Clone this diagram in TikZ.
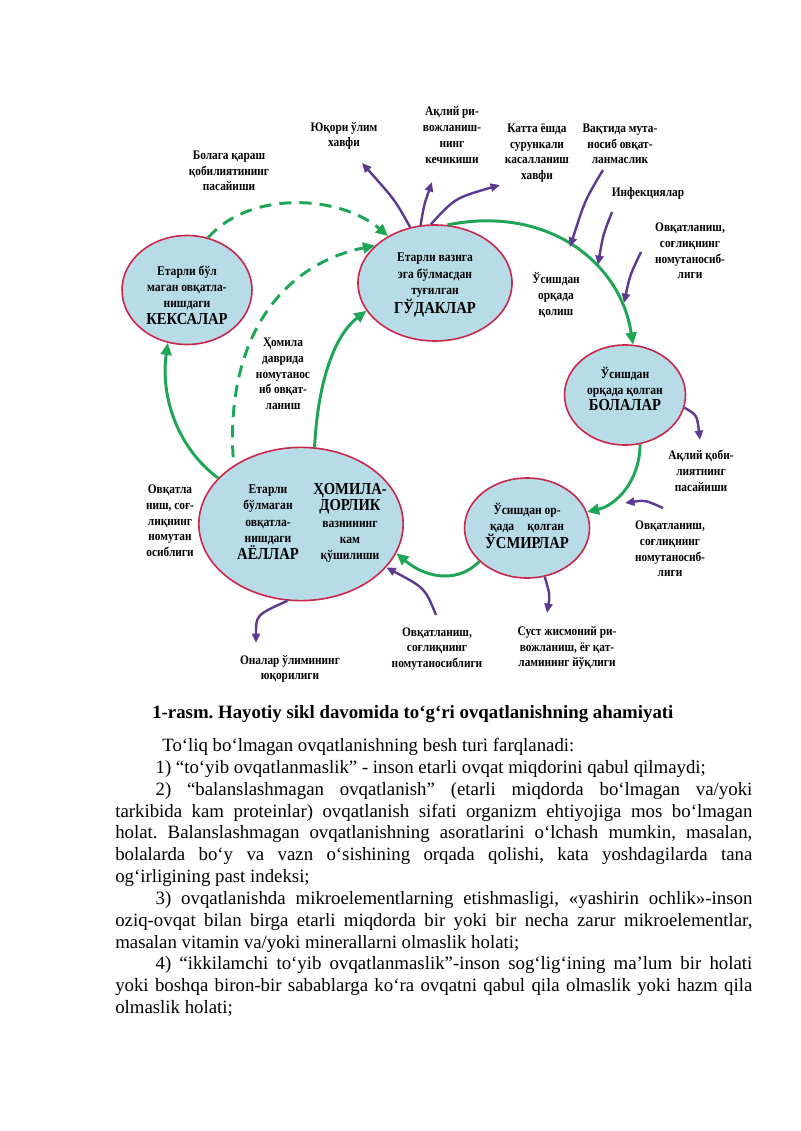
\documentclass[tikz,border=0pt]{standalone}
\usepackage{fontspec}
\setmainfont{Liberation Serif}
\newfontfamily\dfont[FakeStretch=0.87]{Liberation Serif}
\usetikzlibrary{arrows.meta,shapes.geometric}
\definecolor{gr}{HTML}{1FA556}
\definecolor{pu}{HTML}{5B3A8F}
\definecolor{efill}{HTML}{B7DCE7}
\definecolor{edraw}{HTML}{C9284C}
\frenchspacing
\begin{document}
\begin{tikzpicture}[x=0.744pt,y=-0.744pt,
 ell/.style={ellipse,draw=edraw,line width=1.2pt,fill=efill,inner sep=0pt},
 lbl/.style={font=\dfont\bfseries\fontsize{9.7}{11.7}\selectfont,align=center,inner sep=0pt},
 etxt/.style={font=\dfont\bfseries\fontsize{9.9}{12.2}\selectfont,align=center,inner sep=0pt},
 garr/.style={draw=gr,line width=2.2pt,-{Triangle[length=9pt,width=8pt]}},
 gdash/.style={garr,dash pattern=on 9pt off 6pt},
 parr/.style={draw=pu,line width=1.8pt,-{Triangle[length=7pt,width=6pt]}}]
\newcommand\bigw[1]{{\fontsize{12.5}{14}\selectfont #1}}
\useasboundingbox (0,0) rectangle (800,1131);
\fill[white] (0,0) rectangle (800,1131);

% ellipses
\node[ell,minimum width=96.7pt,minimum height=81.1pt] (keks) at (187,290) {};
\node[ell,minimum width=114.6pt,minimum height=86.3pt] (gud) at (435,283) {};
\node[ell,minimum width=90pt,minimum height=74.4pt] (bol) at (625,395) {};
\node[ell,minimum width=93pt,minimum height=74.4pt] (usm) at (527,528) {};
\node[ell,minimum width=152pt,minimum height=114pt] (ayol) at (301,524) {};

% ellipse texts
\node[etxt] (tkeks) at (187,295) {Етарли бўл\\маган овқатла-\\нишдаги\\\bigw{КЕКСАЛАР}};
\node[etxt] (tgud) at (435,285) {Етарли вазнга\\эга бўлмасдан\\туғилган\\\bigw{ГЎДАКЛАР}};
\node[etxt] (tbol) at (625,389) {Ўсишдан\\орқада қолган\\\bigw{БОЛАЛАР}};
\node[etxt] (tusm) at (527,526) {Ўсишдан ор-\\қада\quad қолган\\\bigw{ЎСМИРЛАР}};
\node[etxt] (tayol1) at (268,522) {Етарли\\бўлмаган\\овқатла-\\нишдаги\\\bigw{АЁЛЛАР}};
\node[etxt] (tayol2) at (350,523) {\bigw{ҲОМИЛА-}\\\bigw{ДОРЛИК}\\вазнининг\\кам\\қўшилиши};

% labels
\node[lbl] (l1) at (229,171) {Болага қараш\\қобилиятининг\\пасайиши};
\node[lbl] (l2) at (344,136) {Юқори ўлим\\хавфи};
\node[lbl] (l3) at (452,135) {Ақлий ри-\\вожланиш-\\нинг\\кечикиши};
\node[lbl] (l4) at (537,153) {Катта ёшда\\сурункали\\касалланиш\\хавфи};
\node[lbl] (l5) at (620,144) {Вақтида мута-\\носиб овқат-\\ланмаслик};
\node[lbl] (l6) at (648,193) {Инфекциялар};
\node[lbl] (l7) at (690,251) {Овқатланиш,\\соғлиқнинг\\номутаносиб-\\лиги};
\node[lbl] (l8) at (556,295) {Ўсишдан\\орқада\\қолиш};
\node[lbl] (l9) at (283,374) {Ҳомила\\даврида\\номутанос\\иб овқат-\\ланиш};
\node[lbl] (l10) at (701,471) {Ақлий қоби-\\лиятнинг\\пасайиши};
\node[lbl] (l11) at (670,549) {Овқатланиш,\\соғлиқнинг\\номутаносиб-\\лиги};
\node[lbl] (l12) at (170,521) {Овқатла\\ниш, соғ-\\лиқнинг\\номутан\\осиблиги};
\node[lbl] (l13) at (567,648) {Суст жисмоний ри-\\вожланиш, ёғ қат-\\ламининг йўқлиги};
\node[lbl] (l14) at (437,649) {Овқатланиш,\\соғлиқнинг\\номутаносиблиги};
\node[lbl] (l15) at (290,669) {Оналар ўлимининг\\юқорилиги};

% free ends
\coordinate (a1) at (362,163);
\coordinate (a2) at (432,182);
\coordinate (a3) at (500,185);
\coordinate (s5) at (603,170);
\coordinate (e5) at (570,247);
\coordinate (s6) at (612,212);
\coordinate (e6) at (598,265);
\coordinate (s7) at (641,252);
\coordinate (e7) at (624,303);
\coordinate (a10) at (700,440);
\coordinate (s11) at (663,508);
\coordinate (e11) at (625,503);
\coordinate (a13) at (547,613);
\coordinate (s14) at (436,615);
\coordinate (a15) at (256,643);

% green cycle
\draw[garr] (gud.78) .. controls (545,205) and (620,260) .. (bol.81);
\draw[garr] (bol.-73) .. controls (640,480) and (617,505) .. (usm.15);
\draw[garr] (usm.215) .. controls (460,582) and (428,580) .. (ayol.-17);
\draw[garr] (ayol.80) .. controls (318,380) and (335,335) .. (gud.202);
\draw[garr] (ayol.151) .. controls (180,450) and (160,400) .. (keks.-110);
\draw[gdash] (keks.68) .. controls (250,190) and (340,195) .. (gud.135);
\draw[gdash,shorten <=6pt] (ayol.139) .. controls (226,340) and (280,265) .. (gud.148);

% purple
\draw[parr] (gud.114) .. controls (395,200) .. (a1);
\draw[parr] (gud.104) .. controls (424,205) .. (a2);
\draw[parr] (gud.94) .. controls (455,198) .. (a3);
\draw[parr] (s5) .. controls (585,200) .. (e5);
\draw[parr] (s6) .. controls (603,235) .. (e6);
\draw[parr] (s7) .. controls (630,275) .. (e7);
\draw[parr] (bol.-12) .. controls (697,415) .. (a10);
\draw[parr] (s11) .. controls (645,500) .. (e11);
\draw[parr] (usm.-70) .. controls (550,595) .. (a13);
\draw[parr] (s14) .. controls (425,588) .. (ayol.-27);
\draw[parr] (ayol.-100) .. controls (256,615) .. (a15);

% caption and text
\node[anchor=base west,inner sep=0pt,font=\bfseries\fontsize{14}{17}\selectfont] (cap) at (152,718) {1-rasm. Hayotiy sikl davomida to‘g‘ri ovqatlanishning ahamiyati};
\node[anchor=north west,inner sep=0pt,text width=474pt,align=justify,font=\fontsize{14}{16.25}\selectfont] (body) at (115,738) {%
\hspace*{35pt}To‘liq bo‘lmagan ovqatlanishning besh turi farqlanadi:\par
\hspace*{30pt}1) “to‘yib ovqatlanmaslik” - inson etarli ovqat miqdorini qabul qilmaydi;\par
\hspace*{30pt}2) “balanslashmagan ovqatlanish” (etarli miqdorda bo‘lmagan va/yoki\linebreak
tarkibida kam proteinlar) ovqatlanish sifati organizm ehtiyojiga mos bo‘lmagan\linebreak
holat. Balanslashmagan ovqatlanishning asoratlarini o‘lchash mumkin, masalan,\linebreak
bolalarda bo‘y va vazn o‘sishining orqada qolishi, kata yoshdagilarda tana\linebreak
og‘irligining past indeksi;\par
\hspace*{30pt}3) ovqatlanishda mikroelementlarning etishmasligi, «yashirin ochlik»-inson\linebreak
oziq-ovqat bilan birga etarli miqdorda bir yoki bir necha zarur mikroelementlar,\linebreak
masalan vitamin va/yoki minerallarni olmaslik holati;\par
\hspace*{30pt}4) “ikkilamchi to‘yib ovqatlanmaslik”-inson sog‘lig‘ining ma’lum bir holati\linebreak
yoki boshqa biron-bir sabablarga ko‘ra ovqatni qabul qila olmaslik yoki hazm qila\linebreak
olmaslik holati;\par};
\end{tikzpicture}
\end{document}
